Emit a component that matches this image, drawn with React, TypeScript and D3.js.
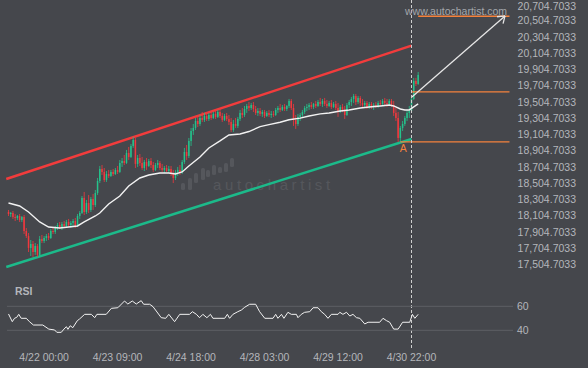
import React from "react";
import * as d3 from "d3";

const WIDTH = 588;
const HEIGHT = 368;

// hourly candles: [open, high, low, close]
const candles: number[][] = [
  [18149, 18174, 18100, 18124], [18124, 18149, 18088, 18137], [18137, 18161, 18063, 18088], [18088, 18124, 18038, 18075],
  [18075, 18112, 18051, 18100], [18100, 18124, 18026, 18051], [18051, 18100, 18026, 18088], [18088, 18112, 17878, 17915],
  [17915, 17952, 17829, 17853], [17853, 17890, 17656, 17706], [17706, 17804, 17607, 17755], [17755, 17792, 17595, 17656],
  [17656, 17767, 17620, 17730], [17730, 17755, 17595, 17620], [17620, 17853, 17595, 17816], [17816, 17866, 17767, 17792],
  [17792, 17853, 17767, 17829], [17829, 17878, 17792, 17853], [17853, 17890, 17804, 17829], [17829, 17940, 17816, 17915],
  [17915, 17952, 17878, 17903], [17903, 17977, 17878, 17952], [17952, 18014, 17927, 17989], [17989, 18026, 17940, 17964],
  [17964, 18026, 17927, 18001], [18001, 18038, 17952, 17977], [17977, 18051, 17964, 18026], [18026, 18063, 17964, 17989],
  [17989, 18038, 17952, 18014], [18014, 18063, 17977, 18038], [18038, 18075, 17952, 17977], [17977, 18124, 17964, 18100],
  [18100, 18161, 18063, 18137], [18137, 18346, 18124, 18322], [18322, 18396, 18112, 18149], [18149, 18297, 18124, 18260],
  [18260, 18359, 18137, 18174], [18174, 18334, 18149, 18309], [18309, 18371, 18174, 18235], [18235, 18420, 18211, 18383],
  [18383, 18568, 18359, 18531], [18531, 18716, 18506, 18679], [18679, 18728, 18605, 18642], [18642, 18691, 18519, 18543],
  [18543, 18654, 18519, 18617], [18617, 18667, 18568, 18593], [18593, 18667, 18580, 18642], [18642, 18679, 18593, 18617],
  [18617, 18691, 18605, 18667], [18667, 18716, 18617, 18642], [18642, 18790, 18630, 18753], [18753, 18814, 18704, 18777],
  [18777, 18851, 18728, 18753], [18753, 18913, 18741, 18876], [18876, 18950, 18790, 18827], [18827, 18987, 18814, 18962],
  [18962, 19073, 18938, 19036], [19036, 19061, 18691, 18741], [18741, 18851, 18704, 18814], [18814, 18864, 18716, 18753],
  [18753, 18827, 18667, 18691], [18691, 18790, 18654, 18765], [18765, 18814, 18667, 18716], [18716, 18802, 18704, 18777],
  [18777, 18814, 18691, 18728], [18728, 18765, 18642, 18667], [18667, 18753, 18654, 18728], [18728, 18790, 18691, 18753],
  [18753, 18777, 18667, 18691], [18691, 18741, 18642, 18667], [18667, 18716, 18630, 18691], [18691, 18728, 18642, 18654],
  [18654, 18716, 18630, 18679], [18679, 18716, 18593, 18617], [18617, 18667, 18506, 18568], [18568, 18667, 18543, 18642],
  [18642, 18704, 18593, 18667], [18667, 18728, 18605, 18642], [18642, 18790, 18617, 18765], [18765, 18938, 18741, 18888],
  [18888, 18975, 18790, 18839], [18839, 19061, 18814, 19024], [19024, 19184, 18962, 19147], [19147, 19233, 19098, 19184],
  [19184, 19307, 19159, 19270], [19270, 19332, 19196, 19233], [19233, 19344, 19209, 19307], [19307, 19381, 19258, 19283],
  [19283, 19369, 19258, 19332], [19332, 19381, 19270, 19295], [19295, 19369, 19270, 19344], [19344, 19393, 19283, 19307],
  [19307, 19381, 19295, 19357], [19357, 19406, 19295, 19320], [19320, 19406, 19307, 19381], [19381, 19430, 19307, 19332],
  [19332, 19369, 19258, 19283], [19283, 19357, 19270, 19332], [19332, 19369, 19270, 19295], [19295, 19344, 19221, 19258],
  [19258, 19307, 19135, 19159], [19159, 19283, 19135, 19233], [19233, 19307, 19184, 19209], [19209, 19320, 19184, 19295],
  [19295, 19406, 19270, 19369], [19369, 19430, 19307, 19344], [19344, 19455, 19320, 19418], [19418, 19480, 19369, 19455],
  [19455, 19504, 19393, 19430], [19430, 19492, 19406, 19467], [19467, 19504, 19381, 19418], [19418, 19455, 19344, 19369],
  [19369, 19430, 19332, 19393], [19393, 19430, 19332, 19357], [19357, 19406, 19320, 19381], [19381, 19406, 19307, 19332],
  [19332, 19393, 19320, 19369], [19369, 19406, 19320, 19344], [19344, 19393, 19307, 19357], [19357, 19393, 19320, 19344],
  [19344, 19430, 19332, 19406], [19406, 19455, 19369, 19430], [19430, 19480, 19381, 19406], [19406, 19467, 19393, 19443],
  [19443, 19480, 19393, 19418], [19418, 19467, 19393, 19455], [19455, 19541, 19430, 19517], [19517, 19541, 19406, 19430],
  [19430, 19480, 19209, 19283], [19283, 19344, 19172, 19233], [19233, 19357, 19209, 19320], [19320, 19369, 19270, 19344],
  [19344, 19406, 19307, 19381], [19381, 19455, 19357, 19430], [19430, 19480, 19393, 19443], [19443, 19492, 19406, 19467],
  [19467, 19504, 19418, 19443], [19443, 19492, 19418, 19480], [19480, 19517, 19430, 19455], [19455, 19529, 19443, 19504],
  [19504, 19554, 19455, 19480], [19480, 19541, 19443, 19517], [19517, 19554, 19455, 19480], [19480, 19529, 19430, 19455],
  [19455, 19517, 19443, 19492], [19492, 19529, 19418, 19443], [19443, 19504, 19430, 19480], [19480, 19517, 19406, 19430],
  [19430, 19492, 19320, 19381], [19381, 19467, 19369, 19443], [19443, 19480, 19381, 19406], [19406, 19455, 19295, 19344],
  [19344, 19492, 19332, 19467], [19467, 19529, 19430, 19504], [19504, 19566, 19455, 19541], [19541, 19603, 19492, 19578],
  [19578, 19603, 19467, 19504], [19504, 19578, 19480, 19554], [19554, 19578, 19455, 19492], [19492, 19541, 19443, 19467],
  [19467, 19517, 19430, 19492], [19492, 19517, 19418, 19443], [19443, 19504, 19418, 19480], [19480, 19504, 19418, 19443],
  [19443, 19492, 19406, 19467], [19467, 19504, 19430, 19455], [19455, 19517, 19430, 19492], [19492, 19529, 19455, 19480],
  [19480, 19541, 19455, 19517], [19517, 19554, 19467, 19492], [19492, 19541, 19443, 19480], [19480, 19541, 19455, 19517],
  [19517, 19541, 19443, 19467], [19467, 19517, 19332, 19369], [19369, 19430, 19270, 19307], [19307, 19381, 19012, 19061],
  [19061, 19209, 19012, 19184], [19184, 19270, 19147, 19233], [19233, 19332, 19209, 19307], [19307, 19406, 19270, 19369],
  [19369, 19455, 19307, 19393], [19393, 19578, 19369, 19541], [19541, 19800, 19529, 19763], [19763, 19800, 19701, 19726],
  [19726, 19874, 19714, 19837],
];

// moving average: [candle index, price]
const maLine: number[][] = [
  [0, 18260], [5, 18223], [9, 18149], [14, 18026], [18, 17964], [23, 17952], [27, 17964], [31, 17977],
  [34, 18026], [39, 18100], [41, 18137], [45, 18248], [50, 18346], [54, 18469], [59, 18568], [63, 18605],
  [68, 18630], [72, 18630], [75, 18617], [78, 18642], [81, 18716], [86, 18827], [90, 18938], [95, 19024],
  [99, 19098], [104, 19110], [108, 19140], [113, 19200], [117, 19225], [122, 19255], [126, 19285], [131, 19305],
  [135, 19332], [140, 19357], [144, 19369], [149, 19393], [153, 19406], [158, 19430], [162, 19443], [167, 19455],
  [171, 19467], [173, 19455], [176, 19418], [178, 19406], [180, 19406], [182, 19443], [184, 19480],
];

// RSI: [candle index, value]
const rsiLine: number[][] = [
  [0, 53.6], [1.7, 47.2], [2.7, 50], [3.7, 50.8], [4.6, 53.3], [5.7, 50], [8, 50], [9.4, 47.2], [11.2, 44.4],
  [15.4, 44.4], [18.1, 41], [20.7, 40.3], [21.7, 38.3], [23.7, 38.3], [24.9, 41], [26, 43], [26.7, 40.8],
  [27.7, 43.8], [28.9, 42.2], [30.9, 48], [31.9, 49.4], [34.2, 53.3], [37.2, 53.3], [38.7, 50.5], [39.7, 53.3],
  [43.9, 53.3], [46.2, 58.3], [49.1, 58.8], [52.1, 64.4], [53.6, 61.9], [55.6, 64.4], [57.4, 61.9], [59.6, 64.7],
  [60.7, 61.7], [63.4, 61.7], [64.9, 59.7], [68.6, 50.5], [70.6, 50], [72, 53.3], [74.6, 47.2], [76.9, 53.3],
  [81.3, 53.3], [82.6, 55.5], [84.4, 53.3], [85.8, 50.5], [87.3, 53.3], [89.1, 50.5], [90.7, 53.3], [91.8, 50],
  [97.1, 50], [98.3, 53.3], [99.3, 50], [100.8, 53.3], [103, 55.5], [104.6, 56.9], [106.1, 59.2], [108.3, 61.7],
  [111, 61.7], [112.8, 55.5], [115.1, 50], [118.8, 50], [120, 53.3], [121, 50], [122.6, 53.3], [123.7, 50],
  [125.5, 55], [127, 53.3], [129.3, 53.3], [130, 50.5], [131.5, 53.3], [133, 55], [135.3, 55.5], [136.8, 58.8],
  [139, 58.8], [140.5, 55.5], [142, 53.3], [143.5, 50], [145, 53.3], [148, 53.3], [148.8, 55], [150.2, 53.3],
  [151.8, 55], [153.3, 51.9], [154.7, 53.3], [156.3, 50.5], [157.8, 50], [160, 45.3], [161.5, 46.7], [166.7, 46.7],
  [168.2, 50], [169.8, 48], [171.2, 46.7], [173, 41], [175, 41], [177, 46.7], [180.2, 46.7], [181.4, 53.3],
  [182.5, 50], [184, 53.3],
];

const priceTicks = [
  17504.7033, 17704.7033, 17904.7033, 18104.7033, 18304.7033, 18504.7033, 18704.7033, 18904.7033, 19104.7033,
  19304.7033, 19504.7033, 19704.7033, 19904.7033, 20104.7033, 20304.7033, 20504.7033, 20704.7033,
];
const timeTickIndex = [16, 49, 82, 115, 148, 181];
const timeTickLabels = ["4/22 00:00", "4/23 09:00", "4/24 18:00", "4/28 03:00", "4/29 12:00", "4/30 22:00"];
const rsiTicks = [40, 60];

// channel + pattern levels: [candle index, price]
const resistanceLine = [[-1, 18556], [181, 20198]];
const supportLine = [[-1, 17472], [181, 19048]];
const targetLevel = [184, 20560];
const breakoutLevel = [181, 19628];
const pointALevel = [176, 19012];
const levelEndIndex = 225;
const arrowPath = [[181.2, 19566], [223, 20564]];
const breakoutIndex = 181;

// faint logo bars next to the watermark: [dx, top, bottom]
const logoBars = [
  [-32, 183, 190], [-25, 178, 190], [-19, 173, 183], [-12, 168, 180], [-7, 170, 177],
  [-1, 165, 175], [5, 167, 173], [11, 163, 172], [17, 158, 167],
];

const BG = "#45474c";
const TEXT = "#b4b6bb";
const UP = "#25c28c";
const DOWN = "#f0383e";
const ORANGE = "#f5823c";
const FONT = "'Liberation Sans', Arial, sans-serif";

export default function App() {
  const x = d3.scaleLinear().domain([0, 181]).range([8.5, 411.5]);
  const y = d3.scaleLinear().domain([17504.7033, 20704.7033]).range([264.3, 4.5]);
  const yRsi = d3.scaleLinear().domain([40, 60]).range([330.3, 306.3]);
  const fmt = d3.format(",.4f");

  const priceLine = d3.line<number[]>().x((d) => x(d[0])).y((d) => y(d[1]));
  const rsiPath = d3.line<number[]>().x((d) => x(d[0])).y((d) => yRsi(d[1]));

  const [a0, a1] = arrowPath;
  const ax0 = x(a0[0]), ay0 = y(a0[1]), ax1 = x(a1[0]), ay1 = y(a1[1]);
  const ang = Math.atan2(ay1 - ay0, ax1 - ax0);
  const wing = (s: number) => {
    const t = ang + Math.PI + s * (35 * Math.PI) / 180;
    return `M${ax1},${ay1}L${ax1 + 8 * Math.cos(t)},${ay1 + 8 * Math.sin(t)}`;
  };

  const bx = x(breakoutIndex);
  const wmX = 213;

  return (
    <div style={{ position: "absolute", left: 0, top: 0 }}>
      <svg width={WIDTH} height={HEIGHT} style={{ display: "block", fontFamily: FONT }}>
        <rect width={WIDTH} height={HEIGHT} fill={BG} />

        {/* watermark */}
        <g fill="#55575c">
          {logoBars.map((b, i) => (
            <rect key={i} x={wmX + b[0]} y={b[1]} width={4} height={b[2] - b[1]} rx={1.5} />
          ))}
          <text x={wmX} y={190} fontSize={15} letterSpacing={3.6}>autochartist</text>
        </g>

        {/* channel */}
        <path d={priceLine(resistanceLine) || ""} stroke="#f23c3c" strokeWidth={2.5} fill="none" />
        <path d={priceLine(supportLine) || ""} stroke="#1cba8a" strokeWidth={2.5} fill="none" />

        {/* candles */}
        <g>
          {candles.map((c, i) => {
            const [o, h, l, cl] = c;
            const col = cl >= o ? UP : DOWN;
            const top = y(Math.max(o, cl));
            const bot = y(Math.min(o, cl));
            return (
              <g key={i}>
                <line x1={x(i)} x2={x(i)} y1={y(h)} y2={y(l)} stroke={col} strokeWidth={0.8} />
                <rect x={x(i) - 0.75} y={top} width={1.5} height={Math.max(1, bot - top)} fill={col} />
              </g>
            );
          })}
        </g>

        {/* moving average */}
        <path d={priceLine(maLine) || ""} stroke="#f2f2f2" strokeWidth={1.4} fill="none" />

        {/* levels */}
        {[targetLevel, breakoutLevel, pointALevel].map((lv, i) => (
          <line key={i} x1={x(lv[0])} x2={x(levelEndIndex)} y1={y(lv[1])} y2={y(lv[1])}
            stroke={ORANGE} strokeWidth={1.3} />
        ))}
        <text x={x(pointALevel[0]) + 3} y={y(pointALevel[1]) + 10} fill={ORANGE} fontSize={10.5}
          textAnchor="middle">A</text>

        {/* projection arrow */}
        <g stroke="#e6e6e6" strokeWidth={1.3} fill="none">
          <line x1={ax0} y1={ay0} x2={ax1} y2={ay1} />
          <path d={wing(1)} />
          <path d={wing(-1)} />
        </g>

        {/* breakout time marker */}
        <line x1={bx} x2={bx} y1={0} y2={350} stroke="#cfcfcf" strokeWidth={1} strokeDasharray="3,2" />

        <text x={405} y={15} fill="#a3a6ab" fontSize={10.5}>www.autochartist.com</text>

        {/* price axis */}
        {priceTicks.map((p) => (
          <text key={p} x={576} y={Math.max(y(p), 6.5)} dy="0.35em" fill={TEXT} fontSize={10.5} textAnchor="end">
            {fmt(p)}
          </text>
        ))}

        {/* RSI panel */}
        <text x={15} y={295} fill={TEXT} fontSize={10.5} fontWeight="bold">RSI</text>
        {rsiTicks.map((t) => (
          <g key={t}>
            <line x1={7} x2={513} y1={yRsi(t)} y2={yRsi(t)} stroke="#5d5f64" strokeWidth={1} />
            <text x={517} y={yRsi(t)} dy="0.35em" fill={TEXT} fontSize={10.5}>{t}</text>
          </g>
        ))}
        <path d={rsiPath(rsiLine) || ""} stroke="#f2f2f2" strokeWidth={1} fill="none" />

        {/* time axis */}
        {timeTickIndex.map((ti, i) => (
          <text key={ti} x={x(ti)} y={361} fill={TEXT} fontSize={10.5} textAnchor="middle">
            {timeTickLabels[i]}
          </text>
        ))}
      </svg>
    </div>
  );
}
